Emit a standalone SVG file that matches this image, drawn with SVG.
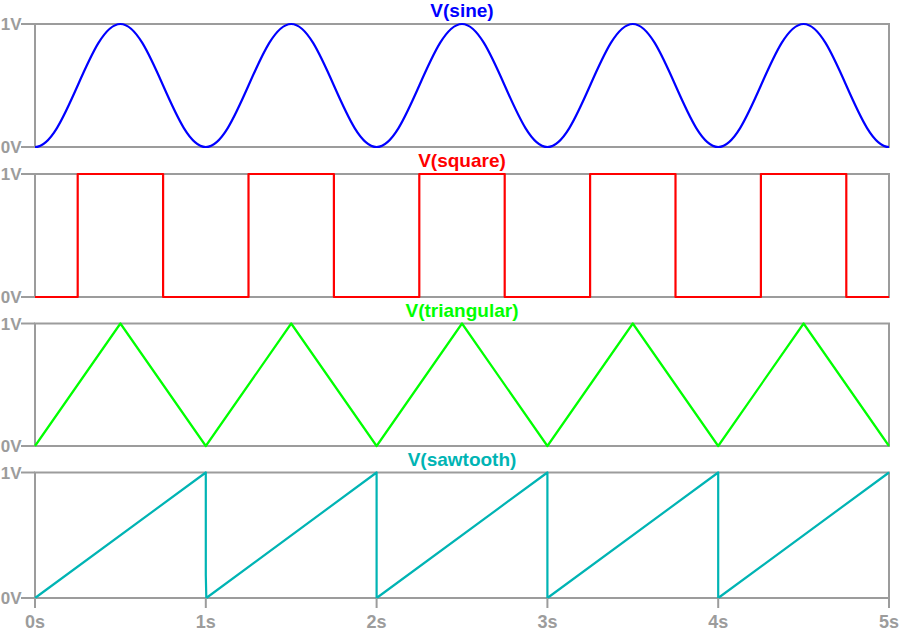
<svg xmlns="http://www.w3.org/2000/svg" width="900" height="634" viewBox="0 0 900 634">
<style>
.frame{fill:none;stroke:#9c9c9c;stroke-width:2}
.tick{stroke:#9c9c9c;stroke-width:2}
.lbl{font-family:"Liberation Sans",Arial,sans-serif;font-weight:bold;fill:#9c9c9c}
.ylbl{font-size:17px;text-anchor:end}
.xlbl{font-size:18px;text-anchor:middle}
.title{font-family:"Liberation Sans",Arial,sans-serif;font-weight:bold;font-size:19px;text-anchor:middle}
.trace{fill:none;stroke-width:2.2;stroke-linejoin:round}
</style>
<rect width="900" height="634" fill="#ffffff"/>
<g id="panel-sine">
<rect class="frame" x="35" y="24" width="854" height="123"/>
<line class="tick" x1="21" y1="24" x2="35" y2="24"/>
<line class="tick" x1="21" y1="147" x2="35" y2="147"/>
<text class="lbl ylbl" x="21.5" y="30">1V</text>
<text class="lbl ylbl" x="21.5" y="153">0V</text>
<text class="title" x="462" y="17" fill="#0000ff">V(sine)</text>
<path class="trace" stroke="#0000ff" d="M35,147 c15.45,0 28.77,-29.99 42.7,-61.5 c13.930,-31.51 27.25,-61.5 42.7,-61.5 c15.45,0 28.77,29.99 42.7,61.5 c13.93,31.51 27.25,61.5 42.7,61.5 c15.45,0 28.77,-29.99 42.7,-61.5 c13.93,-31.51 27.25,-61.5 42.7,-61.5 c15.45,0 28.77,29.99 42.7,61.5 c13.93,31.51 27.25,61.5 42.7,61.5 c15.45,0 28.77,-29.99 42.7,-61.5 c13.93,-31.51 27.25,-61.5 42.7,-61.5 c15.45,0 28.77,29.99 42.7,61.5 c13.93,31.51 27.25,61.5 42.7,61.5 c15.45,0 28.77,-29.99 42.7,-61.5 c13.93,-31.51 27.25,-61.5 42.7,-61.5 c15.45,0 28.77,29.99 42.7,61.5 c13.93,31.51 27.25,61.5 42.7,61.5 c15.45,0 28.77,-29.99 42.7,-61.5 c13.93,-31.51 27.25,-61.5 42.7,-61.5 c15.45,0 28.77,29.99 42.7,61.5 c13.93,31.51 27.25,61.5 42.7,61.5"/>
</g>
<g id="panel-square">
<rect class="frame" x="35" y="174" width="854" height="123"/>
<line class="tick" x1="21" y1="174" x2="35" y2="174"/>
<line class="tick" x1="21" y1="297" x2="35" y2="297"/>
<text class="lbl ylbl" x="21.5" y="180">1V</text>
<text class="lbl ylbl" x="21.5" y="303">0V</text>
<text class="title" x="462" y="167" fill="#ff0000">V(square)</text>
<path class="trace" stroke="#ff0000" stroke-linejoin="miter" d="M35,297 H77.7 V174 H163.1 V297 H248.5 V174 H333.9 V297 H419.3 V174 H504.7 V297 H590.1 V174 H675.5 V297 H760.9 V174 H846.3 V297 H889"/>
</g>
<g id="panel-triangular">
<rect class="frame" x="35" y="323.5" width="854" height="122.5"/>
<line class="tick" x1="21" y1="323.5" x2="35" y2="323.5"/>
<line class="tick" x1="21" y1="446" x2="35" y2="446"/>
<text class="lbl ylbl" x="21.5" y="329.5">1V</text>
<text class="lbl ylbl" x="21.5" y="452">0V</text>
<text class="title" x="462" y="317" fill="#00ff00">V(triangular)</text>
<path class="trace" stroke="#00ff00" stroke-linejoin="miter" d="M35,446 L120.4,323.5 L205.8,446 L291.2,323.5 L376.6,446 L462,323.5 L547.4,446 L632.8,323.5 L718.2,446 L803.6,323.5 L889,446"/>
</g>
<g id="panel-sawtooth">
<rect class="frame" x="35" y="472.5" width="854" height="125.5"/>
<line class="tick" x1="21" y1="472.5" x2="35" y2="472.5"/>
<line class="tick" x1="21" y1="598" x2="35" y2="598"/>
<text class="lbl ylbl" x="21.5" y="478.5">1V</text>
<text class="lbl ylbl" x="21.5" y="604">0V</text>
<text class="title" x="462" y="466" fill="#00b4b4">V(sawtooth)</text>
<path class="trace" stroke="#00b4b4" stroke-linejoin="miter" d="M35,598 L205.8,472.5 L205.8,575 L206.3,598 L376.6,472.5 V598 L547.4,472.5 V598 L718.2,472.5 V598 L889,472.5"/>
</g>
<g id="x-axis">
<line class="tick" x1="35" y1="598" x2="35" y2="608"/>
<line class="tick" x1="205.8" y1="598" x2="205.8" y2="608"/>
<line class="tick" x1="376.6" y1="598" x2="376.6" y2="608"/>
<line class="tick" x1="547.4" y1="598" x2="547.4" y2="608"/>
<line class="tick" x1="718.2" y1="598" x2="718.2" y2="608"/>
<line class="tick" x1="889" y1="598" x2="889" y2="608"/>
<text class="lbl xlbl" x="35" y="628">0s</text>
<text class="lbl xlbl" x="205.8" y="628">1s</text>
<text class="lbl xlbl" x="376.6" y="628">2s</text>
<text class="lbl xlbl" x="547.4" y="628">3s</text>
<text class="lbl xlbl" x="718.2" y="628">4s</text>
<text class="lbl xlbl" x="889" y="628">5s</text>
</g>
</svg>
